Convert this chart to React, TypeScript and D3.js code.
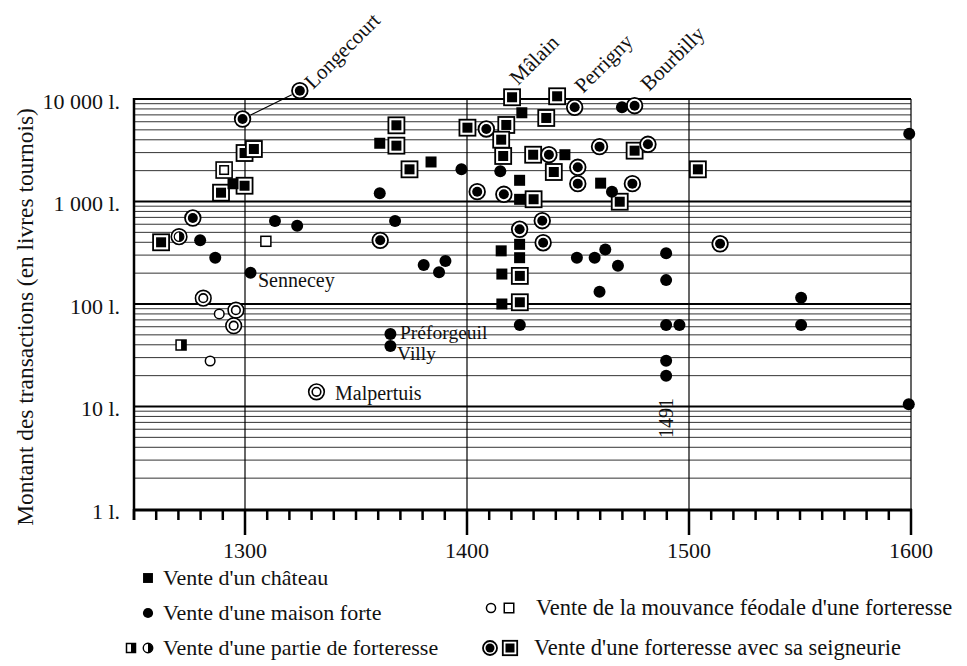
import React from "react";
import * as d3 from "d3";

// ---- data: [year, amount in livres tournois] ----
const chateau: [number, number][] = [
  [1294.6, 1490], [1360.7, 3700], [1383.8, 2430], [1424.7, 7340], [1444.1, 2860],
  [1423.7, 1610], [1460.2, 1510], [1423.7, 1050], [1415.4, 330], [1423.7, 382],
  [1423.7, 283], [1415.7, 196], [1415.7, 100],
];
const maisonForte: [number, number][] = [
  [1279.8, 418], [1286.6, 283], [1302.5, 202], [1313.5, 645], [1323.5, 581],
  [1360.7, 1202], [1367.6, 645], [1397.5, 2060], [1380.5, 240], [1387.4, 204],
  [1390.3, 263], [1365.5, 51], [1365.5, 38.9], [1469.8, 8300], [1599.2, 4590],
  [1415, 1972], [1465.3, 1247], [1449.5, 283], [1457.5, 283], [1462.3, 341],
  [1468, 236], [1489.7, 312], [1489.7, 171], [1459.7, 132], [1550.5, 115],
  [1423.8, 62.4], [1489.7, 62.4], [1495.7, 62.4], [1550.5, 62.4], [1489.7, 28],
  [1489.7, 19.9], [1599, 10.5],
];
const seigneurieCircle: [number, number][] = [
  [1276.5, 690], [1298.9, 6380], [1324.7, 12050], [1360.9, 418], [1404.6, 1247],
  [1448.5, 8300], [1475.5, 8600], [1408.7, 5100], [1436.9, 2860], [1449.9, 2157],
  [1459.7, 3428], [1481.5, 3614], [1449.9, 1493], [1474.5, 1493], [1416.6, 1175],
  [1433.9, 650], [1423.7, 536], [1434.3, 396], [1514, 387],
];
const seigneurieSquare: [number, number][] = [
  [1262.2, 400], [1289.2, 1219], [1299.8, 1425], [1299.8, 2972], [1304, 3251],
  [1368.2, 5537], [1368.2, 3505], [1374.1, 2060], [1400.2, 5250], [1420.3, 10400],
  [1440.6, 10630], [1435.7, 6530], [1417.7, 5580], [1415.4, 4010], [1416.3, 2780],
  [1429.8, 2860], [1439.1, 1940], [1475.5, 3133], [1504, 2060], [1468.8, 995],
  [1430, 1052], [1423.8, 188], [1423.8, 104],
];
const partieSquare: [number, number][] = [[1271.2, 39.8]];
const partieCircle: [number, number][] = [[1270.3, 454]];
const mouvanceCircle: [number, number][] = [[1288.4, 80], [1284.3, 27.8]];
const mouvanceSquare: [number, number][] = [[1309.4, 409]];
const doubleCircle: [number, number][] = [[1281.2, 114], [1295.9, 87], [1294.9, 61.4], [1332.2, 13.9]];
const doubleSquare: [number, number][] = [[1290.6, 2028]];

const longecourtLink: [number, number][] = [[1298.9, 6380], [1324.7, 12050]];

const yTickValues = [1, 10, 100, 1000, 10000];
const yTickLabels = ["1 l.", "10 l.", "100 l.", "1 000 l.", "10 000 l."];
const xCenturies = [1300, 1400, 1500, 1600];

const FONT = "'Liberation Serif', 'Times New Roman', serif";

type MType = "sq" | "ci" | "cci" | "csq" | "hsq" | "chci" | "hci" | "oci" | "osq" | "dci" | "dsq";

function Marker({ t, cx, cy, s = 1 }: { t: MType; cx: number; cy: number; s?: number }) {
  switch (t) {
    case "sq": {
      const a = 11 * s;
      return <rect x={cx - a / 2} y={cy - a / 2} width={a} height={a} fill="#000" />;
    }
    case "ci":
      return <circle cx={cx} cy={cy} r={6 * s} fill="#000" />;
    case "cci":
      return (
        <g>
          <circle cx={cx} cy={cy} r={7.8 * s} fill="#fff" stroke="#000" strokeWidth={1.8} />
          <circle cx={cx} cy={cy} r={5 * s} fill="#000" />
        </g>
      );
    case "csq": {
      const o = 16 * s, i = 10 * s;
      return (
        <g>
          <rect x={cx - o / 2} y={cy - o / 2} width={o} height={o} fill="#fff" stroke="#000" strokeWidth={1.8} />
          <rect x={cx - i / 2} y={cy - i / 2} width={i} height={i} fill="#000" />
        </g>
      );
    }
    case "hsq": {
      const a = 10 * s;
      return (
        <g>
          <rect x={cx - a / 2} y={cy - a / 2} width={a} height={a} fill="#fff" stroke="#000" strokeWidth={1.5} />
          <rect x={cx} y={cy - a / 2} width={a / 2} height={a} fill="#000" />
        </g>
      );
    }
    case "hci": {
      const r = 5 * s;
      return (
        <g>
          <circle cx={cx} cy={cy} r={r} fill="#fff" stroke="#000" strokeWidth={1.4} />
          <path d={`M${cx},${cy - r} A${r},${r} 0 0 1 ${cx},${cy + r} Z`} fill="#000" />
        </g>
      );
    }
    case "chci": {
      const r = 4.8 * s;
      return (
        <g>
          <circle cx={cx} cy={cy} r={7.8 * s} fill="#fff" stroke="#000" strokeWidth={1.6} />
          <circle cx={cx} cy={cy} r={r} fill="#fff" stroke="#000" strokeWidth={1.2} />
          <path d={`M${cx},${cy - r} A${r},${r} 0 0 1 ${cx},${cy + r} Z`} fill="#000" />
        </g>
      );
    }
    case "oci":
      return <circle cx={cx} cy={cy} r={4.8 * s} fill="#fff" stroke="#000" strokeWidth={1.5} />;
    case "osq": {
      const a = 10 * s;
      return <rect x={cx - a / 2} y={cy - a / 2} width={a} height={a} fill="#fff" stroke="#000" strokeWidth={1.5} />;
    }
    case "dci":
      return (
        <g>
          <circle cx={cx} cy={cy} r={7.8 * s} fill="#fff" stroke="#000" strokeWidth={1.6} />
          <circle cx={cx} cy={cy} r={4.3 * s} fill="#fff" stroke="#000" strokeWidth={1.6} />
        </g>
      );
    case "dsq": {
      const o = 16 * s, i = 8.5 * s;
      return (
        <g>
          <rect x={cx - o / 2} y={cy - o / 2} width={o} height={o} fill="#fff" stroke="#000" strokeWidth={1.6} />
          <rect x={cx - i / 2} y={cy - i / 2} width={i} height={i} fill="#fff" stroke="#000" strokeWidth={1.5} />
        </g>
      );
    }
  }
  return null;
}

export default function App() {
  const W = 967, H = 666;
  const left = 134, right = 911, top = 99, bottom = 509;
  const x = d3.scaleLinear().domain([1250, 1600]).range([left, right]);
  const y = d3.scaleLog().domain([1, 10000]).range([bottom, top]);

  const minorY: number[] = [];
  for (let k = 0; k < 4; k++) for (let m = 2; m <= 9; m++) minorY.push(m * Math.pow(10, k));
  const decadeY = [10, 100, 1000, 10000];
  const xTicks = d3.range(1250, 1601, 10);

  const series: [MType, [number, number][]][] = [
    ["chci", partieCircle],
    ["hsq", partieSquare],
    ["oci", mouvanceCircle],
    ["osq", mouvanceSquare],
    ["dci", doubleCircle],
    ["dsq", doubleSquare],
    ["csq", seigneurieSquare],
    ["cci", seigneurieCircle],
    ["sq", chateau],
    ["ci", maisonForte],
  ];

  const [p0, p1] = longecourtLink.map(([a, b]) => [x(a), y(b)]);
  const dx = p1[0] - p0[0], dy = p1[1] - p0[1];
  const len = Math.hypot(dx, dy);
  const ux = dx / len, uy = dy / len;

  const textStyle = { fontFamily: FONT, fill: "#111" } as const;

  return (
    <svg width={W} height={H} style={{ position: "absolute", left: 0, top: 0, background: "#fff" }}>
      <rect width={W} height={H} fill="#fff" />
      {minorY.map((v) => (
        <line key={"m" + v} x1={left} x2={right} y1={y(v)} y2={y(v)} stroke="#333" strokeWidth={1} />
      ))}
      {decadeY.map((v) => (
        <line key={"d" + v} x1={left} x2={right} y1={y(v)} y2={y(v)} stroke="#000" strokeWidth={2} />
      ))}
      {xCenturies.map((c) => (
        <line key={"v" + c} x1={x(c)} x2={x(c)} y1={top} y2={bottom} stroke="#000" strokeWidth={1.2} />
      ))}
      <line x1={left} x2={left} y1={top - 1} y2={bottom + 11} stroke="#000" strokeWidth={2.5} />
      <line x1={left - 1} x2={right + 1} y1={bottom + 1} y2={bottom + 1} stroke="#000" strokeWidth={3} />
      {xTicks.map((t) => {
        const major = t % 100 === 0;
        return (
          <line key={"t" + t} x1={x(t)} x2={x(t)} y1={bottom} y2={major ? bottom + 26 : bottom + 11}
            stroke="#000" strokeWidth={2.5} />
        );
      })}
      {xCenturies.map((c) => (
        <text key={"xl" + c} x={x(c)} y={558} textAnchor="middle" fontSize={22} style={textStyle}>{c}</text>
      ))}
      {yTickValues.map((v, i) => (
        <text key={"yl" + v} x={120} y={y(v) + 9.5} textAnchor="end" fontSize={22} style={textStyle}>{yTickLabels[i]}</text>
      ))}
      <text transform={`translate(33,317) rotate(-90)`} textAnchor="middle" fontSize={23.4} style={textStyle}>
        Montant des transactions (en livres tournois)
      </text>

      <line x1={p0[0] + ux * 9} y1={p0[1] + uy * 9} x2={p1[0] - ux * 9} y2={p1[1] - uy * 9} stroke="#000" strokeWidth={1.2} />

      {series.map(([t, pts]) =>
        pts.map(([yr, v], i) => <Marker key={t + i} t={t} cx={x(yr)} cy={y(v)} />)
      )}

      <text transform="translate(313,90) rotate(-45)" fontSize={21} style={textStyle}>Longecourt</text>
      <text transform="translate(518,86) rotate(-45)" fontSize={21} style={textStyle}>Mâlain</text>
      <text transform="translate(583,94) rotate(-45)" fontSize={21} style={textStyle}>Perrigny</text>
      <text transform="translate(649,92) rotate(-45)" fontSize={21} style={textStyle}>Bourbilly</text>
      <text x={258} y={287} fontSize={20} style={textStyle}>Sennecey</text>
      <text x={400} y={339} fontSize={19.5} style={textStyle}>Préforgeuil</text>
      <text x={397} y={360} fontSize={19.5} style={textStyle}>Villy</text>
      <text x={335} y={400} fontSize={20} style={textStyle}>Malpertuis</text>
      <text transform="translate(673,418) rotate(-90)" textAnchor="middle" fontSize={20} style={textStyle}>1491</text>

      <Marker t="sq" cx={148} cy={578} s={0.9} />
      <text x={163} y={585} fontSize={22} style={textStyle}>Vente d'un château</text>
      <Marker t="ci" cx={148} cy={613} s={0.85} />
      <text x={163} y={620} fontSize={22} style={textStyle}>Vente d'une maison forte</text>
      <Marker t="hsq" cx={131} cy={648} s={0.9} />
      <Marker t="hci" cx={148} cy={648} s={0.95} />
      <text x={163} y={655} fontSize={22} style={textStyle}>Vente d'une partie de forteresse</text>
      <Marker t="oci" cx={491} cy={608} s={0.95} />
      <Marker t="osq" cx={509} cy={608} s={0.95} />
      <text x={536} y={615} fontSize={22.5} style={textStyle}>Vente de la mouvance féodale d'une forteresse</text>
      <Marker t="cci" cx={490} cy={648} s={0.9} />
      <Marker t="csq" cx={510} cy={648} s={0.9} />
      <text x={534} y={655} fontSize={22.5} style={textStyle}>Vente d'une forteresse avec sa seigneurie</text>
    </svg>
  );
}
